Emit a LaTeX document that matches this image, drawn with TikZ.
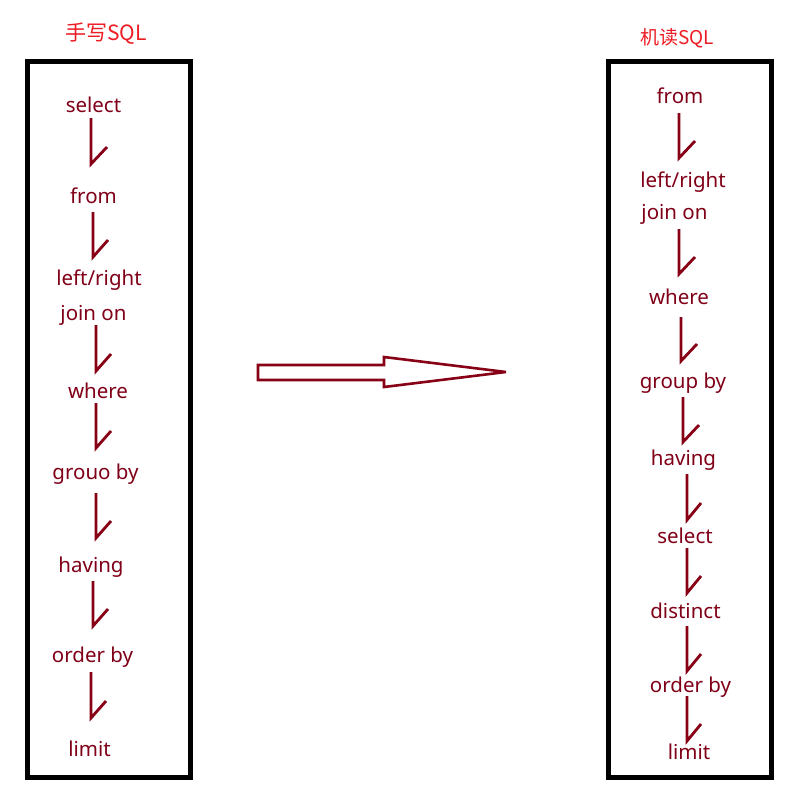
\documentclass[tikz,border=0pt]{standalone}
\usepackage{fontspec}
\setmainfont{Noto Sans}
\newfontfamily\cjkfont{Noto Sans CJK SC}
\definecolor{dred}{HTML}{880015}
\definecolor{tred}{HTML}{ED1C24}
\definecolor{ttext}{HTML}{800018}
\tikzset{
  lbl/.style={anchor=base, inner sep=0pt, text=ttext, font=\fontsize{20.5}{22}\selectfont},
  ttl/.style={anchor=base, inner sep=0pt, text=tred},
  frame/.style={draw=black, line width=5pt},
  sarr/.style={draw=dred, line width=2.8pt, line join=miter},
  bigarr/.style={draw=dred, line width=2.6pt, line join=miter, fill=white}
}
\newcommand{\sdown}[4]{\draw[sarr] (#1,#2) -- (#1,#3) -- ++(#4,-17);}
\begin{document}
\begin{tikzpicture}[x=1pt,y=-1pt]
\useasboundingbox[fill=white] (0,0) rectangle (810,790);
% frames
\draw[frame] (27.5,61.5) rectangle (190.5,777) node[coordinate] (lbox) {};
\draw[frame] (608.5,61.5) rectangle (771.5,777) node[coordinate] (rbox) {};
% titles
\node[ttl, font=\cjkfont\fontsize{21}{22}\selectfont] (t1) at (106,40) {手写SQL};
\node[ttl, font=\cjkfont\fontsize{19}{20}\selectfont] (t2) at (677,44) {机读SQL};
% left column
\node[lbl] (l1) at (93.5,112) {select};
\node[lbl] (l2) at (93.5,203) {from};
\node[lbl] (l3) at (99,285) {left/right};
\node[lbl] (l4) at (93.5,320) {join on};
\node[lbl] (l5) at (98,398) {where};
\node[lbl] (l6) at (95.5,479) {grouo by};
\node[lbl] (l7) at (91,572) {having};
\node[lbl] (l8) at (92.5,662) {order by};
\node[lbl] (l9) at (89.5,756) {limit};
\sdown{91}{118}{164}{16}
\sdown{93}{212}{257}{15}
\sdown{96}{325}{371}{15}
\sdown{96}{403}{448}{15}
\sdown{96}{493}{538}{15}
\sdown{93}{581}{626}{15}
\sdown{91}{672}{718}{15}
% right column
\node[lbl] (r1) at (680,103) {from};
\node[lbl] (r2) at (683,187) {left/right};
\node[lbl] (r3) at (674.5,219) {join on};
\node[lbl] (r4) at (679,304) {where};
\node[lbl] (r5) at (683,388) {group by};
\node[lbl] (r6) at (683.5,465) {having};
\node[lbl] (r7) at (685,543) {select};
\node[lbl] (r8) at (685.5,618) {distinct};
\node[lbl] (r9) at (690.5,692) {order by};
\node[lbl] (r10) at (689,759) {limit};
\sdown{679}{113}{158}{16}
\sdown{679}{229}{274}{16}
\sdown{681}{317}{361}{16}
\sdown{683}{397}{442}{16}
\sdown{687}{474}{520}{14}
\sdown{687}{548}{593}{14}
\sdown{687}{626}{671}{14}
\sdown{687}{696}{741}{14}
% big arrow
\draw[bigarr, miter limit=3] (258,365) -- (384,365) -- (384,357) -- (506,372) -- (384,387) -- (384,380) -- (258,380) -- cycle;
\end{tikzpicture}
\end{document}
